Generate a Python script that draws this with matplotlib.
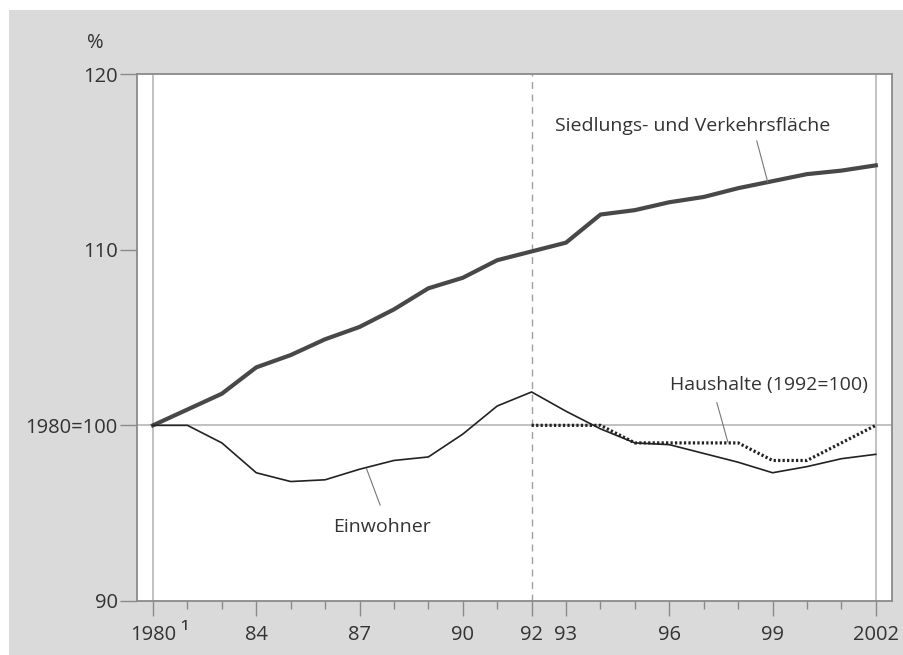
import matplotlib
matplotlib.use("Agg")
import matplotlib.pyplot as plt
from matplotlib.patches import Rectangle

# ---- data ----
tick_labels = ["1980", "", "", "84", "", "", "87", "", "", "90", "", "92", "93",
               "", "", "96", "", "", "99", "", "", "2002"]
siedlung = [100.0, 100.9, 101.8, 103.3, 104.0, 104.9, 105.6, 106.6, 107.8, 108.4,
            109.4, 109.9, 110.4, 112.0, 112.25, 112.7, 113.0, 113.5, 113.9, 114.3,
            114.5, 114.8]
einwohner = [100.0, 100.0, 99.0, 97.3, 96.8, 96.9, 97.5, 98.0, 98.2, 99.5,
             101.1, 101.9, 100.8, 99.8, 99.0, 98.9, 98.4, 97.9, 97.3, 97.65,
             98.1, 98.35]
haushalte_start = 11
haushalte = [100, 100, 100, 99, 99, 99, 99, 98, 98, 99, 100]
y_ticks = [90, 100, 110, 120]
y_tick_labels = ["90", "1980=100", "110", "120"]

plt.rcParams['font.family'] = ['Open Sans', 'DejaVu Sans']
txt = '#333333'
W, H = 904, 655
fig = plt.figure(figsize=(W / 100, H / 100), dpi=100)
fig.patch.set_facecolor('white')
fig.patches.append(Rectangle((9 / W, 0), 1 - 9 / W, (H - 10) / H,
                             transform=fig.transFigure, facecolor='#dadada',
                             edgecolor='none', zorder=-5))

ax = fig.add_axes([137 / W, (H - 601) / H, (892 - 137) / W, (601 - 74) / H])
ax.set_zorder(2)
ax.set_facecolor('white')
n = len(tick_labels)
xs = list(range(n))
ax.set_xlim(-0.465, n - 1 + 0.47)
ax.set_ylim(90, 120)

for s in ax.spines.values():
    s.set_color('#8a8a8a')
    s.set_linewidth(1.3)

# reference lines
ax.axhline(100, color='#b0b0b0', lw=1.1, zorder=1)
ax.axvline(0, color='#b0b0b0', lw=1.1, zorder=1)
ax.axvline(n - 1, color='#b0b0b0', lw=1.1, zorder=1)
ax.axvline(11, color='#a0a0a0', lw=1.0, ls=(0, (5, 4)), zorder=1)

# series
ax.plot(xs, siedlung, color='#484848', lw=3.0, solid_joinstyle='round', zorder=3)
ax.plot(xs, einwohner, color='#222222', lw=1.2, zorder=3)
hx = list(range(haushalte_start, haushalte_start + len(haushalte)))
ax.plot(hx, haushalte, color='#222222', lw=2.3, ls=(0, (0.7, 0.7)), zorder=4)

# ticks
major_pos = [i for i, l in enumerate(tick_labels) if l]
ax.set_xticks(major_pos)
ax.set_xticklabels([tick_labels[i] for i in major_pos])
ax.set_xticks(xs, minor=True)
ax.tick_params(axis='x', which='major', length=11, width=1.0, color='#8a8a8a',
               labelsize=14.5, labelcolor=txt, pad=6, direction='out')
ax.tick_params(axis='x', which='minor', length=6, width=1.0, color='#8a8a8a')
ax.set_yticks(y_ticks)
ax.set_yticklabels(y_tick_labels)
ax.tick_params(axis='y', length=12, width=1.0, color='#8a8a8a',
               labelsize=14.5, labelcolor=txt, pad=2)
ax.text(0.9, -0.04, "¹", transform=ax.get_xaxis_transform(), fontsize=17,
        color=txt, ha='center', va='top')

fig.text(95 / W, 1 - 43 / H, "%", fontsize=14.5, color=txt, ha='center', va='center')

# annotations
lead = dict(arrowstyle='-', color='#777777', lw=0.8, shrinkA=0, shrinkB=0)
ax.text(15.68, 117.04, "Siedlungs- und Verkehrsfläche", fontsize=14, color=txt,
        ha='center', va='center')
ax.annotate('', xy=(17.86, 113.85), xytext=(17.54, 116.2), arrowprops=lead)
ax.text(17.9, 102.32, "Haushalte (1992=100)", fontsize=14, color=txt,
        ha='center', va='center')
ax.annotate('', xy=(16.7, 99.05), xytext=(16.38, 101.3), arrowprops=lead)
ax.text(6.65, 94.2, "Einwohner", fontsize=14, color=txt, ha='center', va='center')
ax.annotate('', xy=(6.6, 95.45), xytext=(6.2, 97.55), arrowprops=lead)

fig.savefig("out.png", dpi=100, facecolor=fig.get_facecolor())
